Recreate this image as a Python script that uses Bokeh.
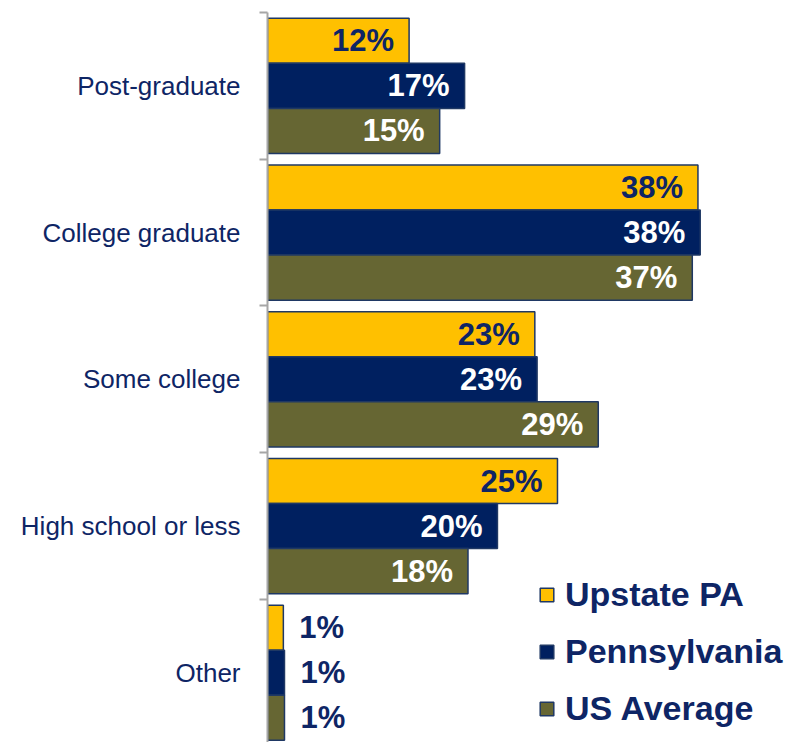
from bokeh.plotting import figure
from bokeh.models import ColumnDataSource, FixedTicker, Range1d, Legend, LegendItem
from bokeh.transform import dodge
from bokeh.core.properties import value
from bokeh.embed import file_html
from bokeh.resources import INLINE

categories = ["Post-graduate", "College graduate", "Some college", "High school or less", "Other"]
series = ["Upstate PA", "Pennsylvania", "US Average"]
upstate_pa = [12.5, 38.0, 23.6, 25.6, 1.4]
pennsylvania = [17.4, 38.2, 23.8, 20.3, 1.5]
us_average = [15.2, 37.5, 29.2, 17.7, 1.5]
upstate_labels = ["12%", "38%", "23%", "25%", "1%"]
pennsylvania_labels = ["17%", "38%", "23%", "20%", "1%"]
us_labels = ["15%", "37%", "29%", "18%", "1%"]

fills = ["#FFC000", "#002060", "#666633"]
text_on = ["#0E2565", "#FFFFFF", "#FFFFFF"]
NAVY = "#0E2565"
FONT = "Liberation Sans"

n = len(categories)
ypos = [n - 1 - i for i in range(n)]

p = figure(width=796, height=742, output_backend="svg", toolbar_location=None,
           x_range=Range1d(0, 46.7), y_range=Range1d(-0.475, 4.5),
           min_border_left=267, min_border_right=0, min_border_top=12, min_border_bottom=0)
p.outline_line_color = None
p.xgrid.visible = False
p.ygrid.visible = False
p.xaxis.visible = False

bh = 0.307
offsets = [bh, 0.0, -bh]
renderers = []
for vals, labs, fill, tc, off in zip([upstate_pa, pennsylvania, us_average],
                                     [upstate_labels, pennsylvania_labels, us_labels],
                                     fills, text_on, offsets):
    inside = [v >= 5 for v in vals]
    src = ColumnDataSource(dict(
        y=ypos, v=vals, lab=labs,
        align=["right" if i else "left" for i in inside],
        xoff=[-15 if i else 16 for i in inside],
        tcol=[tc if i else NAVY for i in inside],
    ))
    r = p.hbar(y=dodge("y", off, range=p.y_range), right="v", left=0, height=bh, source=src,
               fill_color=fill, line_color="#1F3864", line_width=1.5)
    renderers.append(r)
    p.text(x="v", y=dodge("y", off, range=p.y_range), text="lab", source=src,
           text_align="align", text_baseline="middle", x_offset="xoff",
           text_color="tcol", text_font=value(FONT), text_font_style="bold",
           text_font_size="31px")

ax = p.yaxis[0]
ax.ticker = FixedTicker(ticks=ypos, minor_ticks=[y + 0.5 for y in ypos])
ax.major_label_overrides = {y: c for y, c in zip(ypos, categories)}
ax.major_tick_out = 0
ax.major_tick_in = 0
ax.minor_tick_out = 8
ax.minor_tick_in = 0
ax.minor_tick_line_color = "#A6A6A6"
ax.minor_tick_line_width = 2
ax.axis_line_color = "#A6A6A6"
ax.axis_line_width = 2
ax.major_label_standoff = 19
ax.major_label_text_font = FONT
ax.major_label_text_font_size = "26px"
ax.major_label_text_color = NAVY

legend = Legend(items=[LegendItem(label=s, renderers=[r]) for s, r in zip(series, renderers)],
                location=(271, 14), orientation="vertical")
legend.background_fill_alpha = 0
legend.border_line_color = None
legend.label_text_font = FONT
legend.label_text_font_style = "bold"
legend.label_text_font_size = "34px"
legend.label_text_color = NAVY
legend.glyph_width = 17
legend.glyph_height = 17
legend.label_standoff = 10
legend.spacing = 18
legend.padding = 0
legend.margin = 0
p.add_layout(legend)

open("out.html", "w").write(file_html(p, INLINE))
